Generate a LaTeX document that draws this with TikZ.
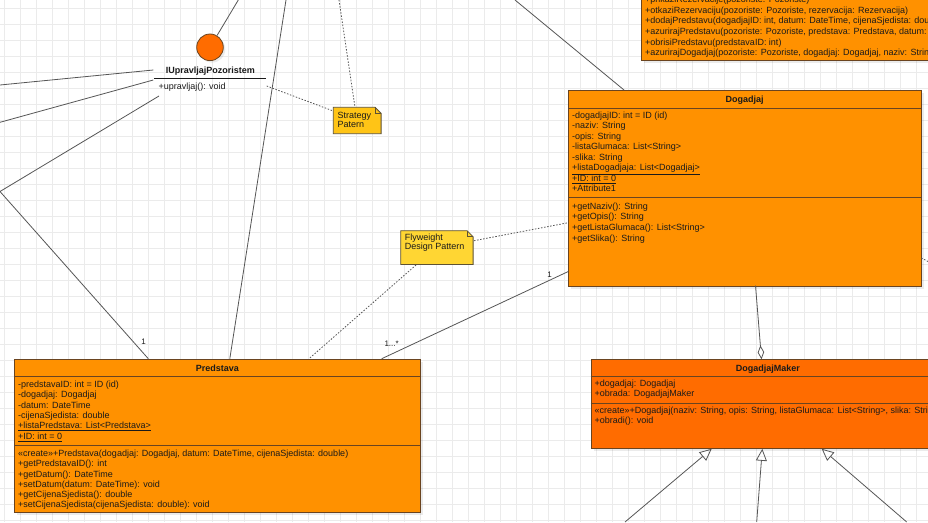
\documentclass[tikz,border=0pt]{standalone}
\usepackage{fontspec}
\setmainfont{Liberation Sans}
\usetikzlibrary{arrows.meta,shadows}

\definecolor{clsfill}{HTML}{FF9100}
\definecolor{makerfill}{HTML}{FF6C00}
\definecolor{clsline}{HTML}{6A4420}
\definecolor{wire}{HTML}{555555}
\definecolor{stratfill}{HTML}{FFC416}
\definecolor{flyfill}{HTML}{FFD633}
\definecolor{notedraw}{HTML}{5E5233}
\definecolor{gridcol}{HTML}{EBEBEB}
\definecolor{ink}{HTML}{1A1A1A}

\tikzset{
  umltext/.style={anchor=base west, inner sep=0pt, text=ink, font=\fontsize{9}{10.5}\selectfont},
  umltitle/.style={anchor=base, inner sep=0pt, text=ink, font=\fontsize{9}{10.5}\selectfont\bfseries},
  classbox/.style={draw=clsline, line width=0.9pt, fill=clsfill, rectangle, inner sep=0pt,
    anchor=north west, drop shadow={shadow xshift=2.5pt, shadow yshift=-2.5pt, fill=black, opacity=0.08}},
  makerbox/.style={classbox, fill=makerfill},
  sepline/.style={draw=clsline, line width=0.9pt},
  notebox/.style={rectangle, inner sep=0pt, anchor=north west},
  noteshape/.style={draw=notedraw, line width=0.8pt, line join=miter},
  wireline/.style={draw=wire, line width=0.8pt},
  dotline/.style={draw=wire, line width=0.8pt, dash pattern=on 1.5pt off 1.6pt},
  multlabel/.style={inner sep=0pt, text=ink, font=\fontsize{8}{9}\selectfont},
  genarrow/.style={wireline, -{Triangle[open, length=12pt, width=11pt, line width=0.8pt]}},
  aggarrow/.style={wireline, -{Diamond[open, length=14pt, width=6.5pt, line width=0.8pt]}},
  gridrule/.style={draw=gridcol, line width=0.7pt},
}

\begin{document}
\begin{tikzpicture}[x=1pt, y=-1pt]
\useasboundingbox (0,0) rectangle (928,522);
\clip (0,0) rectangle (928,522);
\fill[white] (0,0) rectangle (928,522);

% background grid, 16pt pitch
\foreach \gx in {4,20,...,932} { \draw[gridrule] (\gx,0) -- (\gx,522); }
\foreach \gy in {8,24,...,520} { \draw[gridrule] (0,\gy) -- (928,\gy); }

% ---------- attachment points ----------
\coordinate (topA) at (238.3,0);
\coordinate (topB) at (286,0);
\coordinate (topC) at (339,0);
\coordinate (topD) at (515,0);
\coordinate (leftA) at (0,85);
\coordinate (leftB) at (0,122.3);
\coordinate (leftC) at (0,191.5);
\coordinate (rightA) at (928,261.5);
\coordinate (botA) at (625,522);
\coordinate (botB) at (756.7,522);
\coordinate (botC) at (906.7,522);

% ---------- interface ----------
\node[circle, draw=clsline, line width=0.8pt, fill=makerfill, minimum size=26.6pt, inner sep=0pt,
      drop shadow={shadow xshift=2pt, shadow yshift=-2pt, fill=black, opacity=0.08}] (iface) at (210,47.3) {};
\node[umltitle] (ifaceName) at (210.3,73.3) {IUpravljajPozoristem};
\coordinate (ifaceL) at (154.3,78.3);
\coordinate (ifaceR) at (266,78.3);
\draw[draw=ink, line width=0.8pt] (ifaceL) -- (ifaceR);
\node[umltext] (ifaceOp) at (158.3,89.5) {+upravljaj(): void};
\coordinate (ifaceIn1) at (153.3,70);
\coordinate (ifaceIn2) at (153.3,80);
\coordinate (ifaceIn3) at (159,96);
\coordinate (ifaceOut) at (266.7,86);

% ---------- top-right class (partly visible) ----------
\node[classbox, minimum width=320pt, minimum height=80pt] (mgr) at (641,-20) {};
\node[umltext] (mgr1) at (645,2.6) {+prikaziRezervacije(pozoriste: Pozoriste)};
\node[umltext] (mgr2) at (645,13.2) {+otkaziRezervaciju(pozoriste: Pozoriste, rezervacija: Rezervacija)};
\node[umltext] (mgr3) at (645,23.9) {+dodajPredstavu(dogadjajID: int, datum: DateTime, cijenaSjedista: double)};
\node[umltext] (mgr4) at (645,34.5) {+azurirajPredstavu(pozoriste: Pozoriste, predstava: Predstava, datum: DateTime)};
\node[umltext] (mgr5) at (645,45.2) {+obrisiPredstavu(predstavaID: int)};
\node[umltext] (mgr6) at (645,55.8) {+azurirajDogadjaj(pozoriste: Pozoriste, dogadjaj: Dogadjaj, naziv: String)};

% ---------- Dogadjaj ----------
\node[classbox, minimum width=353pt, minimum height=195.7pt] (dog) at (568,90) {};
\node[umltitle] (dogName) at (744.5,102.3) {Dogadjaj};
\draw[sepline] (dog.west |- 0,108) -- (dog.east |- 0,108);
\node[umltext] (dogA1) at (572,118.3) {-dogadjajID: int = ID (id)};
\node[umltext] (dogA2) at (572,128.8) {-naziv: String};
\node[umltext] (dogA3) at (572,139.3) {-opis: String};
\node[umltext] (dogA4) at (572,149.8) {-listaGlumaca: List<String>};
\node[umltext] (dogA5) at (572,160.3) {-slika: String};
\node[umltext] (dogA6) at (572,170.8) {\underline{+listaDogadjaja: List<Dogadjaj>}};
\node[umltext] (dogA7) at (572,181.3) {\underline{+ID: int = 0}};
\node[umltext] (dogA8) at (572,191.8) {+Attribute1};
\draw[sepline] (dog.west |- 0,197.5) -- (dog.east |- 0,197.5);
\node[umltext] (dogM1) at (572,209.2) {+getNaziv(): String};
\node[umltext] (dogM2) at (572,219.8) {+getOpis(): String};
\node[umltext] (dogM3) at (572,230.4) {+getListaGlumaca(): List<String>};
\node[umltext] (dogM4) at (572,241.0) {+getSlika(): String};
\coordinate (dogTop) at (624,90);
\coordinate (dogNote) at (568.3,222.7);
\coordinate (dogLeft) at (568.3,271.5);
\coordinate (dogBot) at (755.5,285.7);
\coordinate (dogRight) at (921.3,258);

% ---------- Predstava ----------
\node[classbox, minimum width=406pt, minimum height=153.6pt] (pred) at (14.3,358.7) {};
\node[umltitle] (predName) at (217.3,371.5) {Predstava};
\draw[sepline] (pred.west |- 0,376.7) -- (pred.east |- 0,376.7);
\node[umltext] (predA1) at (18,387.3) {-predstavaID: int = ID (id)};
\node[umltext] (predA2) at (18,397.6) {-dogadjaj: Dogadjaj};
\node[umltext] (predA3) at (18,408.1) {-datum: DateTime};
\node[umltext] (predA4) at (18,418.4) {-cijenaSjedista: double};
\node[umltext] (predA5) at (18,428.9) {\underline{+listaPredstava: List<Predstava>}};
\node[umltext] (predA6) at (18,439.4) {\underline{+ID: int = 0}};
\draw[sepline] (pred.west |- 0,445.3) -- (pred.east |- 0,445.3);
\node[umltext] (predM1) at (18,456.5) {«create»+Predstava(dogadjaj: Dogadjaj, datum: DateTime, cijenaSjedista: double)};
\node[umltext] (predM2) at (18,466.8) {+getPredstavaID(): int};
\node[umltext] (predM3) at (18,477.0) {+getDatum(): DateTime};
\node[umltext] (predM4) at (18,487.0) {+setDatum(datum: DateTime): void};
\node[umltext] (predM5) at (18,497.5) {+getCijenaSjedista(): double};
\node[umltext] (predM6) at (18,507.9) {+setCijenaSjedista(cijenaSjedista: double): void};
\coordinate (predT1) at (148.3,358.7);
\coordinate (predT2) at (229.8,358.7);
\coordinate (predT3) at (309,358.7);
\coordinate (predT4) at (381.7,358.7);

% ---------- DogadjajMaker ----------
\node[makerbox, minimum width=354pt, minimum height=89pt] (maker) at (590.7,359.3) {};
\node[umltitle] (makerName) at (767.8,371.5) {DogadjajMaker};
\draw[sepline] (maker.west |- 0,376.7) -- (maker.east |- 0,376.7);
\node[umltext] (makerA1) at (594.5,386.5) {+dogadjaj: Dogadjaj};
\node[umltext] (makerA2) at (594.5,396.9) {+obrada: DogadjajMaker};
\draw[sepline] (maker.west |- 0,403.3) -- (maker.east |- 0,403.3);
\node[umltext] (makerM1) at (594.5,413.5) {«create»+Dogadjaj(naziv: String, opis: String, listaGlumaca: List<String>, slika: String)};
\node[umltext] (makerM2) at (594.5,423.9) {+obradi(): void};
\coordinate (makerTop) at (761.5,359.3);
\coordinate (makerB1) at (711.7,448.8);
\coordinate (makerB2) at (762.3,448.8);
\coordinate (makerB3) at (821.7,448.8);

% ---------- notes ----------
\node[notebox, minimum width=47.4pt, minimum height=26pt] (strat) at (333.3,107.3) {};
\draw[noteshape, fill=stratfill] (strat.north west) -- ([xshift=-6pt]strat.north east)
  -- ([yshift=-6pt]strat.north east) -- (strat.south east) -- (strat.south west) -- cycle;
\draw[noteshape] ([xshift=-6pt]strat.north east) -- ([xshift=-6pt,yshift=-6pt]strat.north east)
  -- ([yshift=-6pt]strat.north east);
\node[umltext] (strat1) at (337.3,118.2) {Strategy};
\node[umltext] (strat2) at (337.3,127.2) {Patern};
\coordinate (stratTop) at (355,107.3);
\coordinate (stratLeft) at (333.3,111);

\node[notebox, minimum width=72pt, minimum height=33.3pt] (fly) at (400.7,230.7) {};
\draw[noteshape, fill=flyfill] (fly.north west) -- ([xshift=-6pt]fly.north east)
  -- ([yshift=-6pt]fly.north east) -- (fly.south east) -- (fly.south west) -- cycle;
\draw[noteshape] ([xshift=-6pt]fly.north east) -- ([xshift=-6pt,yshift=-6pt]fly.north east)
  -- ([yshift=-6pt]fly.north east);
\node[umltext] (fly1) at (404.7,240.9) {Flyweight};
\node[umltext] (fly2) at (404.7,249.9) {Design Pattern};
\coordinate (flyRight) at (474,240.7);
\coordinate (flyBot) at (416,265);

% ---------- connectors ----------
\draw[wireline] (iface) -- (topA);
\draw[wireline] (leftA) -- (ifaceIn1);
\draw[wireline] (leftB) -- (ifaceIn2);
\draw[wireline] (ifaceIn3) -- (leftC) -- (predT1);
\draw[wireline] (topB) -- (predT2);
\draw[wireline] (topD) -- (dogTop);
\draw[dotline] (topC) -- (stratTop);
\draw[dotline] (ifaceOut) -- (stratLeft);
\draw[dotline] (flyRight) -- (dogNote);
\draw[dotline] (flyBot) -- (predT3);
\draw[dotline] (dogRight) -- (rightA);
\draw[wireline] (dogLeft) -- (predT4);
\node[multlabel, anchor=base] (multOne) at (549.5,277) {1};
\node[multlabel, anchor=base west] (multMany) at (384.3,346) {1...*};
\node[multlabel, anchor=base] (multLeft) at (143.5,344) {1};
\draw[aggarrow] (dogBot) -- (makerTop);
\draw[genarrow] (botA) -- (makerB1);
\draw[genarrow] (botB) -- (makerB2);
\draw[genarrow] (botC) -- (makerB3);
\end{tikzpicture}
\end{document}
